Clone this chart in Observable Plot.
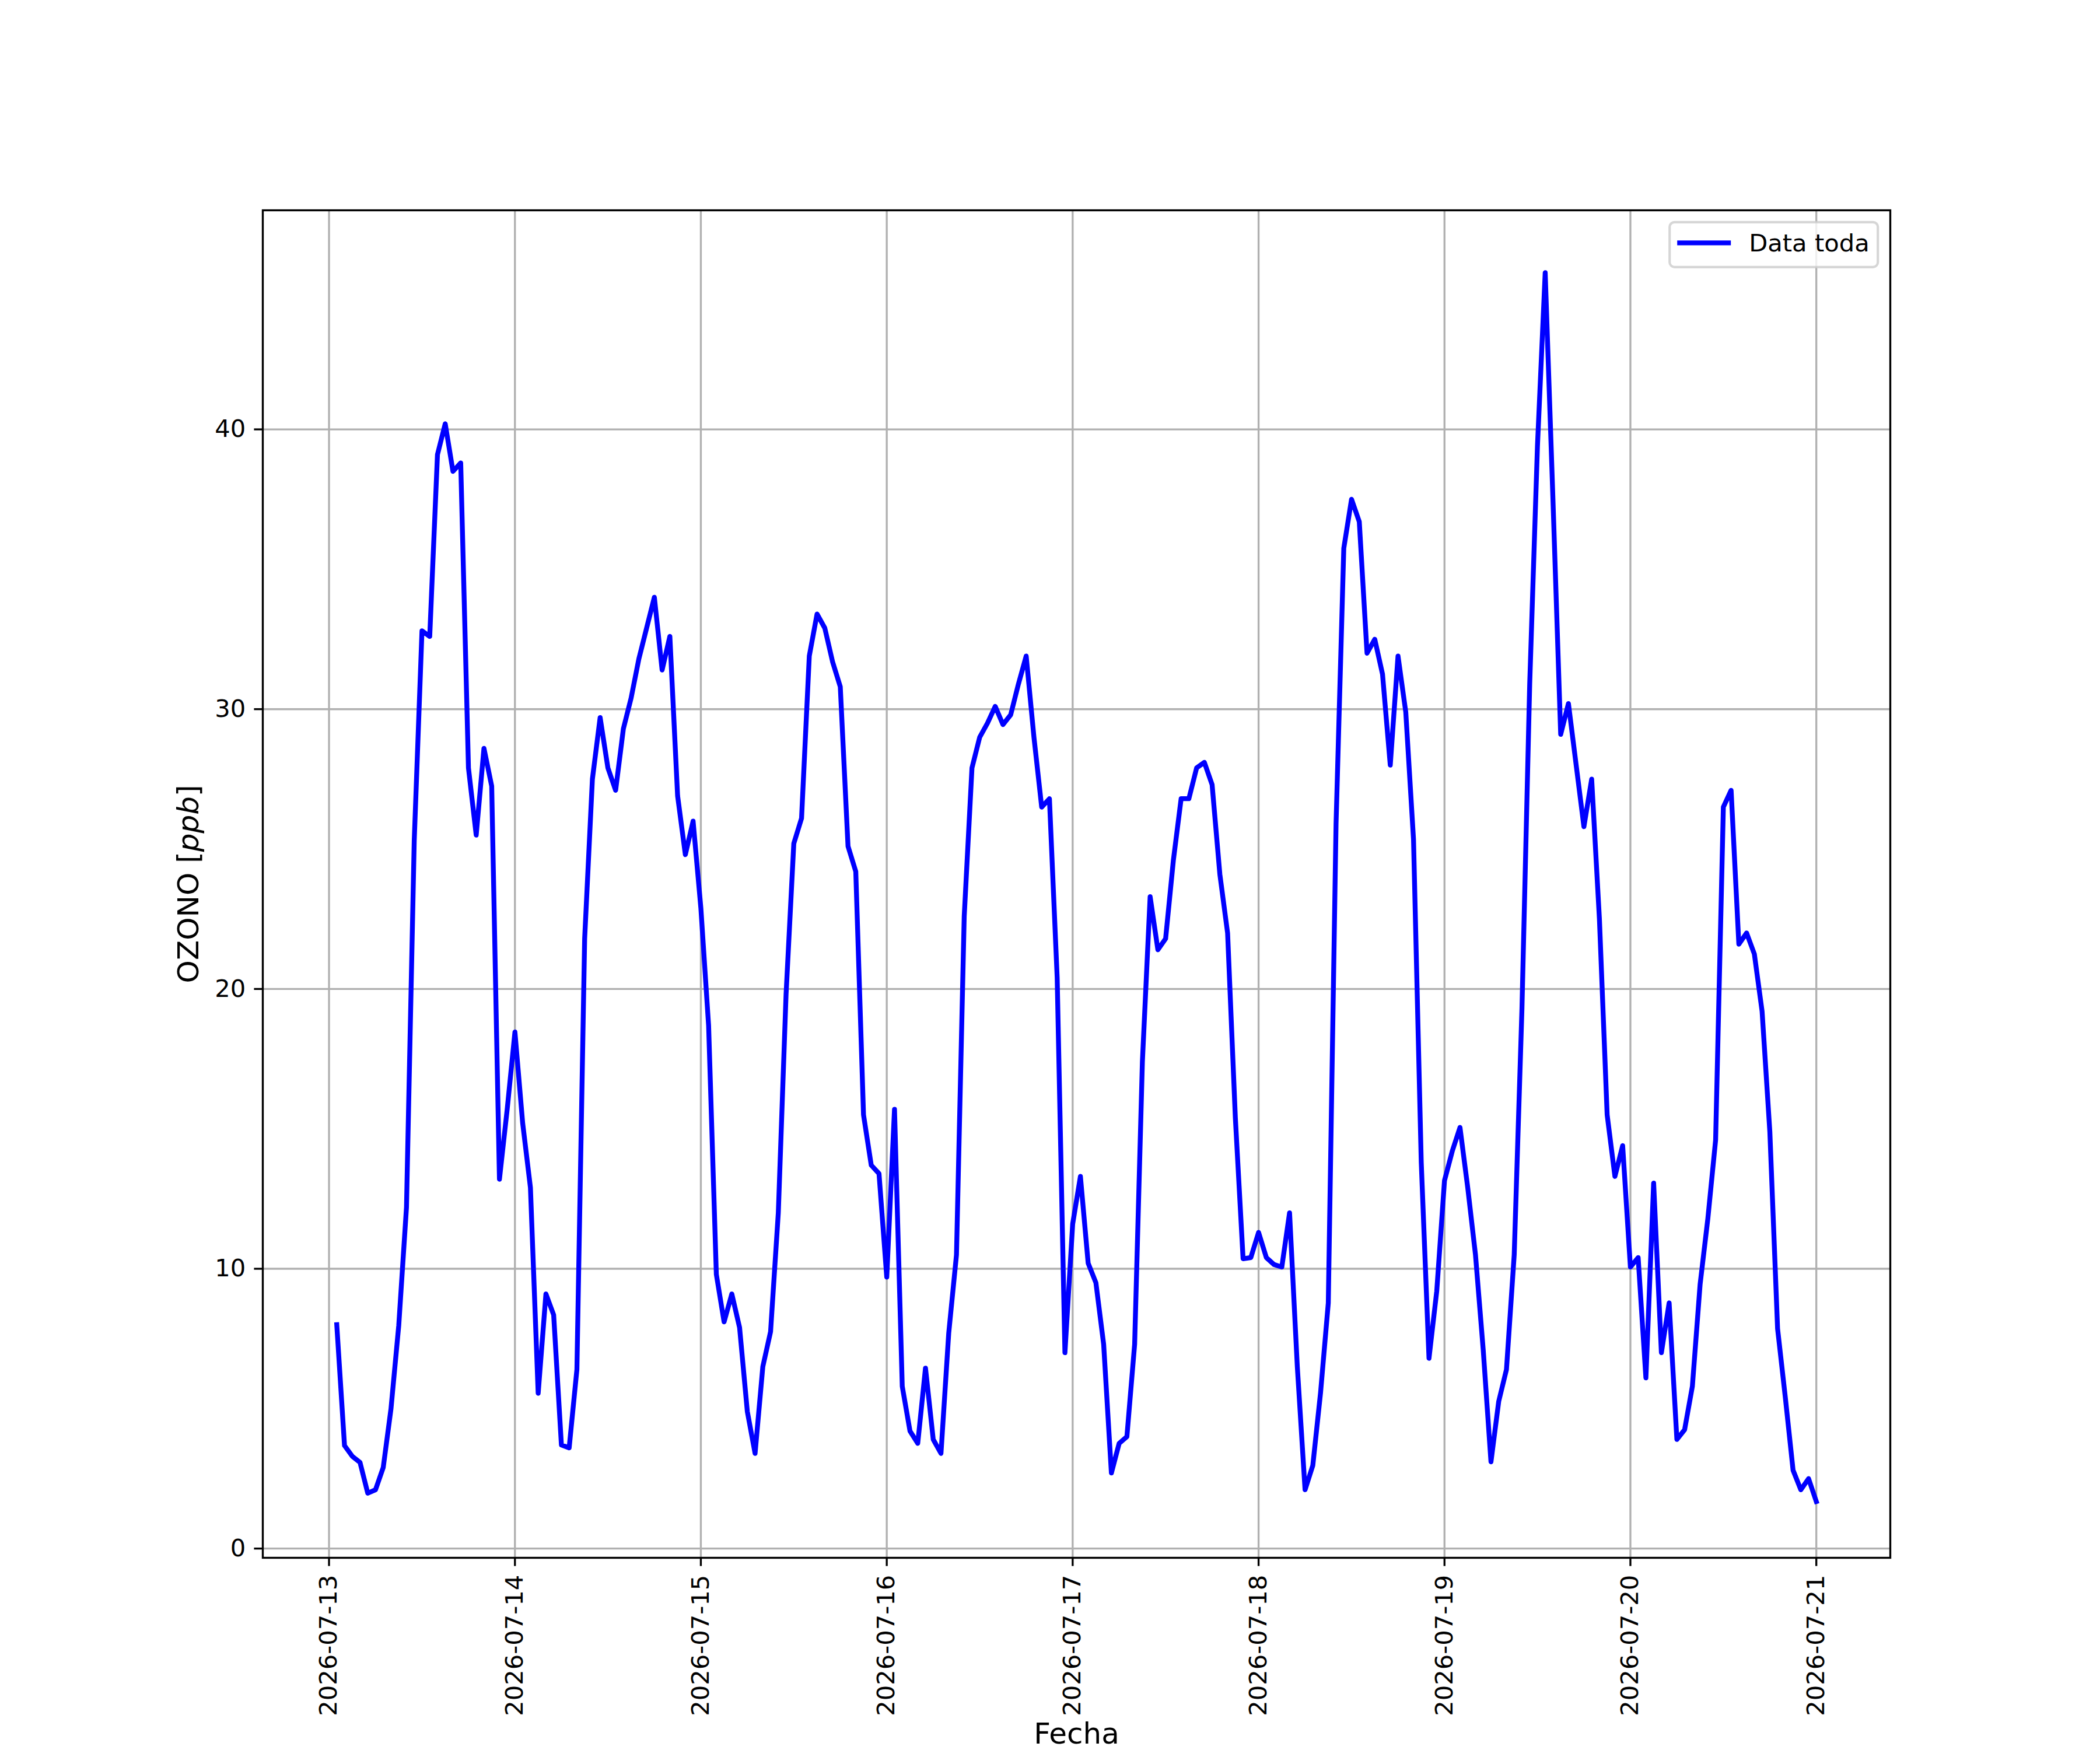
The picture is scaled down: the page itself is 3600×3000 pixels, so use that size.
<!DOCTYPE html>
<html>
<head>
<meta charset="utf-8">
<script src="https://cdn.jsdelivr.net/npm/d3@7"></script>
<script src="https://cdn.jsdelivr.net/npm/@observablehq/plot@0.6"></script>
<style>
  html, body { margin: 0; padding: 0; background: white; }
  svg { display: block; }
</style>
</head>
<body>
<div id="chart"></div>
<script>
// Hourly ozone values (ppb), one array per day
const o0713 = [8.0, 3.68, 3.3, 3.08, 1.98, 2.1, 2.9, 5.0, 7.97, 12.2, 25.3, 32.8, 32.6, 39.1, 40.2, 38.5, 38.8, 27.9, 25.5, 28.6, 27.25, 13.2, 15.7]; // 01:00..23:00
const o0714 = [18.46, 15.2, 12.9, 5.55, 9.1, 8.35, 3.7, 3.6, 6.4, 21.8, 27.5, 29.7, 27.9, 27.1, 29.3, 30.4, 31.8, 32.9, 34.0, 31.4, 32.6, 26.9, 24.8, 26.0];
const o0715 = [22.9, 18.7, 9.8, 8.1, 9.1, 7.9, 4.9, 3.4, 6.5, 7.75, 12.0, 19.8, 25.2, 26.1, 31.9, 33.4, 32.9, 31.7, 30.8, 25.1, 24.2, 15.5, 13.7, 13.4];
const o0716 = [9.7, 15.7, 5.8, 4.2, 3.76, 6.45, 3.9, 3.4, 7.7, 10.5, 22.6, 27.9, 29.0, 29.5, 30.1, 29.45, 29.8, 30.9, 31.9, 29.0, 26.5, 26.8, 20.4, 7.0];
const o0717 = [11.6, 13.3, 10.2, 9.5, 7.3, 2.7, 3.76, 4.0, 7.3, 17.4, 23.3, 21.4, 21.8, 24.6, 26.8, 26.8, 27.9, 28.1, 27.3, 24.1, 22.0, 15.4, 10.36, 10.4];
const o0718 = [11.3, 10.4, 10.15, 10.06, 12.0, 6.5, 2.1, 2.97, 5.57, 8.78, 25.9, 35.75, 37.5, 36.7, 32.0, 32.5, 31.25, 28.0, 31.9, 29.9, 25.35, 13.8, 6.8, 9.2];
const o0719 = [13.15, 14.2, 15.05, 12.9, 10.5, 7.1, 3.1, 5.26, 6.4, 10.5, 19.3, 30.9, 39.4, 45.6, 37.5, 29.1, 30.2, 28.0, 25.8, 27.5, 22.5, 15.5, 13.3, 14.4];
const o0720 = [10.06, 10.4, 6.1, 13.06, 7.0, 8.78, 3.9, 4.25, 5.8, 9.45, 11.8, 14.6, 26.5, 27.1, 21.6, 22.0, 21.25, 19.2, 14.9, 7.86, 5.4, 2.8, 2.1, 2.5];
const o0721 = [1.68]; // 00:00

const firstTime = "2026-07-13T01:00:00Z";
const xTickLabels = ["2026-07-13", "2026-07-14", "2026-07-15", "2026-07-16", "2026-07-17", "2026-07-18", "2026-07-19", "2026-07-20", "2026-07-21"];
const yTicks = [0, 10, 20, 30, 40];
const yDomain = [-0.33, 47.83];
const seriesName = "Data toda";

const values = [].concat(o0713, o0714, o0715, o0716, o0717, o0718, o0719, o0720, o0721);
const t0 = new Date(firstTime);
const data = values.map((v, i) => ({fecha: d3.utcHour.offset(t0, i), ozono: v}));
const xTicks = xTickLabels.map(s => new Date(s + "T00:00:00Z"));

// matplotlib-like 5% margins on x
const [xa, xb] = d3.extent(data, d => d.fecha);
const xpad = (xb - xa) * 0.05;
const xDomain = [new Date(+xa - xpad), new Date(+xb + xpad)];

const W = 3600, H = 3000;
const mL = 450, mR = 360, mT = 360, mB = 330;
const FS = 41.67;      // 10pt @ 300dpi (tick labels, legend)
const LFS = 50;        // 12pt @ 300dpi (axis labels)
const LW = 3.33;       // 0.8pt
const TICK = 14.58;    // 3.5pt
const LINEW = 8.33;    // 2pt

const svg = Plot.plot({
  width: W, height: H,
  marginLeft: mL, marginRight: mR, marginTop: mT, marginBottom: mB,
  style: {fontFamily: "DejaVu Sans", fontSize: FS + "px", background: "white", color: "black"},
  x: {type: "utc", domain: xDomain},
  y: {domain: yDomain},
  marks: [
    Plot.gridX(xTicks, {stroke: "#b0b0b0", strokeOpacity: 1, strokeWidth: LW}),
    Plot.gridY(yTicks, {stroke: "#b0b0b0", strokeOpacity: 1, strokeWidth: LW}),
    Plot.lineY(data, {x: "fecha", y: "ozono", stroke: "blue", strokeWidth: LINEW, strokeLinejoin: "round", strokeLinecap: "square"}),
    Plot.frame({stroke: "black", strokeWidth: LW}),
    Plot.axisX(xTicks, {
      tickSize: TICK, tickPadding: TICK, strokeWidth: LW,
      tickRotate: -90, textAnchor: "end", lineAnchor: "middle",
      tickFormat: (d, i) => xTickLabels[i], label: null
    }),
    Plot.axisY(yTicks, {tickSize: TICK, tickPadding: TICK, strokeWidth: LW, label: null}),
    Plot.text(["Fecha"], {frameAnchor: "bottom", dy: 318, textAnchor: "middle", lineAnchor: "bottom", fontSize: LFS}),
    Plot.text(["OZONO [ppb]"], {frameAnchor: "left", dx: -111, rotate: -90, textAnchor: "middle", lineAnchor: "bottom", fontSize: LFS})
  ]
});

// italic "ppb" like matplotlib mathtext
d3.select(svg).selectAll("text").each(function() {
  if (this.textContent === "OZONO [ppb]") {
    const t = d3.select(this);
    t.text(null);
    t.append("tspan").text("OZONO [");
    t.append("tspan").attr("font-style", "italic").text("ppb");
    t.append("tspan").text("]");
  }
});

// Legend (upper right, matplotlib style)
const frameRight = W - mR, frameTop = mT;
const lg = d3.select(svg).append("g").attr("aria-label", "legend");
const bx = frameRight - 20.8 - 357, by = frameTop + 20.8;
lg.append("rect").attr("x", bx).attr("y", by).attr("width", 357).attr("height", 77)
  .attr("rx", 8.3).attr("fill", "white").attr("fill-opacity", 0.8)
  .attr("stroke", "#cccccc").attr("stroke-opacity", 0.8).attr("stroke-width", 4.17);
lg.append("line").attr("x1", bx + 13).attr("x2", bx + 105).attr("y1", by + 35.5).attr("y2", by + 35.5)
  .attr("stroke", "blue").attr("stroke-width", LINEW).attr("stroke-linecap", "butt");
lg.append("text").attr("x", bx + 136).attr("y", by + 50).attr("font-family", "DejaVu Sans")
  .attr("text-anchor", "start").attr("font-size", FS).attr("fill", "black").text(seriesName);

document.getElementById("chart").appendChild(svg);
</script>
</body>
</html>
